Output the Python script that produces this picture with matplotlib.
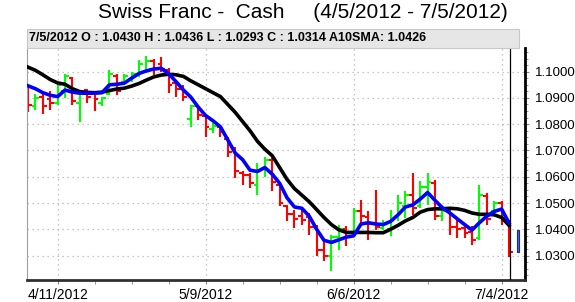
import matplotlib
matplotlib.use("Agg")
import matplotlib.pyplot as plt
from matplotlib.patches import Rectangle
from matplotlib.ticker import MultipleLocator, FormatStrFormatter
import numpy as np
import pandas as pd

plt.rcParams['font.family'] = ['Liberation Sans', 'DejaVu Sans']

# trading days 4/5/2012 - 7/5/2012
dates = pd.bdate_range("2012-04-05", "2012-07-05")

opens = [1.0920, 1.0868, 1.0905, 1.0895, 1.0880, 1.0925, 1.0975, 1.0880, 1.0930, 1.0915,
         1.0880, 1.0915, 1.0985, 1.0960, 1.0970, 1.0990, 1.1000, 1.1040, 1.1030, 1.1005,
         1.0955, 1.0935, 1.0820, 1.0870, 1.0830, 1.0780, 1.0790, 1.0745, 1.0700, 1.0615,
         1.0605, 1.0570, 1.0630, 1.0665, 1.0570, 1.0490, 1.0460, 1.0450, 1.0445, 1.0410,
         1.0320, 1.0300, 1.0370, 1.0400, 1.0390, 1.0470, 1.0445, 1.0425, 1.0405, 1.0400,
         1.0445, 1.0490, 1.0530, 1.0490, 1.0560, 1.0575, 1.0450, 1.0470, 1.0410, 1.0405,
         1.0390, 1.0365, 1.0525, 1.0470, 1.0500, 1.0430]
highs = [1.0943, 1.0914, 1.0918, 1.0925, 1.0957, 1.0990, 1.0980, 1.0924, 1.0935, 1.0920,
         1.0905, 1.1005, 1.0990, 1.0990, 1.1000, 1.1044, 1.1060, 1.1050, 1.1057, 1.1014,
         1.0962, 1.0950, 1.0873, 1.0873, 1.0835, 1.0805, 1.0791, 1.0753, 1.0715, 1.0620,
         1.0615, 1.0653, 1.0677, 1.0672, 1.0577, 1.0493, 1.0474, 1.0474, 1.0463, 1.0417,
         1.0360, 1.0380, 1.0417, 1.0411, 1.0480, 1.0512, 1.0468, 1.0548, 1.0436, 1.0474,
         1.0531, 1.0544, 1.0615, 1.0582, 1.0615, 1.0588, 1.0487, 1.0482, 1.0436, 1.0417,
         1.0411, 1.0569, 1.0539, 1.0506, 1.0506, 1.0436]
lows = [1.0848, 1.0854, 1.0840, 1.0855, 1.0873, 1.0900, 1.0873, 1.0810, 1.0880, 1.0850,
        1.0868, 1.0910, 1.0910, 1.0955, 1.0960, 1.0980, 1.0995, 1.0987, 1.1000, 1.0919,
        1.0905, 1.0890, 1.0790, 1.0816, 1.0753, 1.0767, 1.0753, 1.0677, 1.0595, 1.0570,
        1.0558, 1.0530, 1.0600, 1.0544, 1.0487, 1.0430, 1.0406, 1.0417, 1.0380, 1.0297,
        1.0278, 1.0240, 1.0322, 1.0335, 1.0380, 1.0411, 1.0360, 1.0398, 1.0398, 1.0373,
        1.0430, 1.0444, 1.0455, 1.0482, 1.0493, 1.0436, 1.0430, 1.0380, 1.0368, 1.0368,
        1.0341, 1.0360, 1.0417, 1.0449, 1.0417, 1.0293]
closes = [1.0873, 1.0900, 1.0870, 1.0882, 1.0950, 1.0985, 1.0890, 1.0915, 1.0905, 1.0895,
          1.0900, 1.0990, 1.0925, 1.0985, 1.0990, 1.1030, 1.1040, 1.1010, 1.1010, 1.0950,
          1.0935, 1.0905, 1.0870, 1.0835, 1.0790, 1.0795, 1.0770, 1.0695, 1.0620, 1.0605,
          1.0575, 1.0625, 1.0665, 1.0580, 1.0500, 1.0460, 1.0440, 1.0435, 1.0410, 1.0320,
          1.0300, 1.0370, 1.0400, 1.0385, 1.0470, 1.0450, 1.0420, 1.0410, 1.0420, 1.0440,
          1.0500, 1.0530, 1.0480, 1.0560, 1.0580, 1.0450, 1.0470, 1.0410, 1.0400, 1.0385,
          1.0360, 1.0530, 1.0440, 1.0500, 1.0440, 1.0314]

# moving averages
fast_ma = [1.0946, 1.0935, 1.0920, 1.0910, 1.0905, 1.0930, 1.0922, 1.0918, 1.0918, 1.0918,
           1.0920, 1.0950, 1.0952, 1.0956, 1.0975, 1.0993, 1.1003, 1.1010, 1.1013, 1.0992,
           1.0962, 1.0930, 1.0903, 1.0865, 1.0833, 1.0813, 1.0790, 1.0740, 1.0690, 1.0665,
           1.0625, 1.0620, 1.0635, 1.0610, 1.0575, 1.0520, 1.0485, 1.0480, 1.0450, 1.0400,
           1.0358, 1.0350, 1.0360, 1.0370, 1.0375, 1.0420, 1.0425, 1.0420, 1.0418, 1.0430,
           1.0455, 1.0485, 1.0493, 1.0515, 1.0540, 1.0510, 1.0482, 1.0462, 1.0440, 1.0418,
           1.0397, 1.0425, 1.0450, 1.0468, 1.0477, 1.0424]
slow_ma = [1.1017, 1.1005, 1.0988, 1.0970, 1.0957, 1.0952, 1.0935, 1.0924, 1.0921, 1.0920,
           1.0922, 1.0928, 1.0934, 1.0937, 1.0945, 1.0955, 1.0968, 1.0980, 1.0987, 1.0990,
           1.0988, 1.0982, 1.0965, 1.0950, 1.0935, 1.0920, 1.0905, 1.0875, 1.0845, 1.0810,
           1.0775, 1.0735, 1.0705, 1.0680, 1.0635, 1.0590, 1.0555, 1.0530, 1.0505, 1.0475,
           1.0445, 1.0418, 1.0398, 1.0388, 1.0388, 1.0388, 1.0388, 1.0387, 1.0387, 1.0400,
           1.0415, 1.0432, 1.0445, 1.0465, 1.0475, 1.0478, 1.0478, 1.0480, 1.0478, 1.0472,
           1.0462, 1.0457, 1.0457, 1.0455, 1.0445, 1.0415]

date_labels = ["4/11/2012", "5/9/2012", "6/6/2012", "7/4/2012"]
y_ticks = [1.03, 1.04, 1.05, 1.06, 1.07, 1.08, 1.09, 1.10]

title = "Swiss Franc -  Cash     (4/5/2012 - 7/5/2012)"
info = "7/5/2012 O : 1.0430 H : 1.0436 L : 1.0293 C : 1.0314 A10SMA: 1.0426"

W, H = 575, 302
fig = plt.figure(figsize=(W / 100, H / 100), dpi=100)
ax = fig.add_axes([27 / W, (H - 280) / H, (525 - 27) / W, (280 - 48) / H])

x = np.arange(len(dates))
labels_all = [f"{d.month}/{d.day}/{d.year}" for d in dates]
label_pos = [labels_all.index(s) for s in date_labels]
wed_pos = [i for i, d in enumerate(dates) if d.weekday() == 2]

# grid
for v in y_ticks:
    ax.axhline(v, color="#b4b4b4", lw=0.9, ls=(0, (1, 3)), zorder=0)
for p in label_pos:
    ax.axvline(p, color="#b4b4b4", lw=0.9, ls=(0, (1, 3)), zorder=0)

# OHLC bars
for i in x:
    col = "#00ff00" if closes[i] >= opens[i] else "#ff0000"
    ax.vlines(i, lows[i], highs[i], color=col, lw=1.5, zorder=2)
    ax.hlines(opens[i], i - 0.5, i, color=col, lw=1.5, zorder=2)
    ax.hlines(closes[i], i, i + 0.5, color=col, lw=1.5, zorder=2)

ax.plot(x, slow_ma, color="black", lw=2.6, zorder=3, solid_joinstyle="round")
ax.plot(x, fast_ma, color="#0000ff", lw=2.6, zorder=4, solid_joinstyle="round")

# cursor line and marker
ax.axvline(x[-1] + 0.2, color="black", lw=0.9, zorder=5)
ax.add_patch(Rectangle((x[-1] + 1.05, 1.0315), 0.3, 0.0082, facecolor="#3a6fff",
                       edgecolor="#1a2a80", lw=0.8, zorder=5))

ax.set_xlim(-0.14, 67.16)
ax.set_ylim(1.0207, 1.109)

ax.set_xticks(label_pos)
ax.set_xticklabels(date_labels, fontsize=10)
ax.set_xticks(wed_pos, minor=True)
ax.tick_params(axis="x", which="both", length=3, color="#888888", pad=3)

ax.yaxis.tick_right()
ax.set_yticks(y_ticks)
ax.yaxis.set_major_formatter(FormatStrFormatter("%.4f"))
ax.yaxis.set_minor_locator(MultipleLocator(0.0025))
ax.tick_params(axis="y", which="major", length=3, labelsize=9.5, pad=4, color="#888888")
ax.tick_params(axis="y", which="minor", length=2, color="#888888")

ax.spines["top"].set_visible(False)
ax.spines["left"].set_color("#a0a0a0")
ax.spines["left"].set_linewidth(0.8)
ax.spines["bottom"].set_color("#303030")
ax.spines["bottom"].set_linewidth(2)
ax.spines["right"].set_color("black")
ax.spines["right"].set_linewidth(2)

# info bar
fig.patches.append(Rectangle((27 / W, (H - 48) / H), (519 - 27) / W, 19 / H,
                             transform=fig.transFigure, facecolor="#e6e6e6",
                             edgecolor="#c8c8c8", lw=0.8))
fig.text(29 / W, 1 - 38 / H, info, fontsize=9, fontweight="bold", ha="left", va="center")
fig.text(303 / W, 1 - 12 / H, title, fontsize=15, ha="center", va="center")

fig.savefig("out.png", dpi=100)
